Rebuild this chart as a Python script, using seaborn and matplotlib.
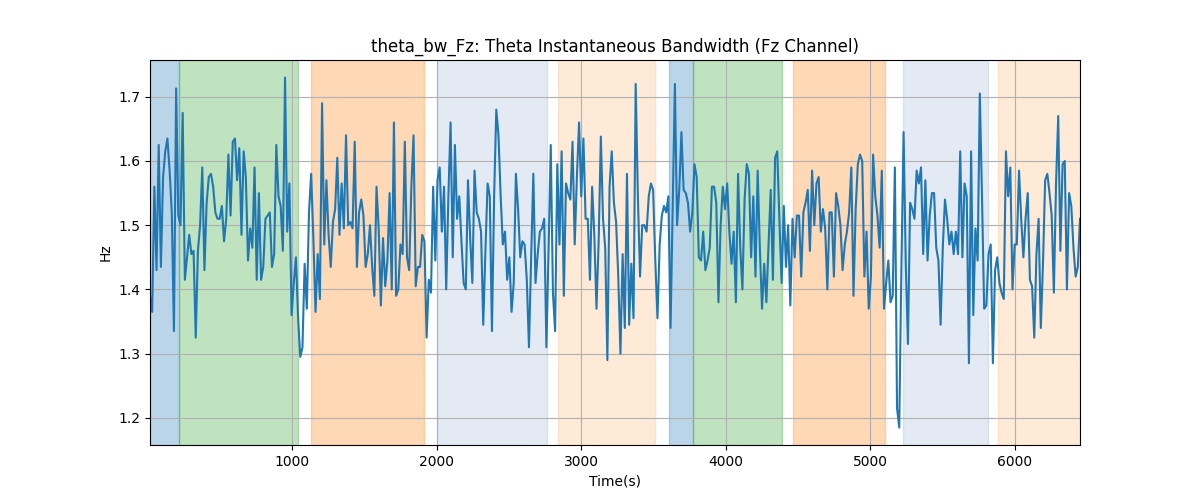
import numpy as np
import matplotlib
matplotlib.use("Agg")
import matplotlib.pyplot as plt
import seaborn as sns

t_start = 18
t_end = 6450

values = [
    # segment 1
    1.39, 1.365, 1.56, 1.43, 1.625, 1.435, 1.575, 1.615, 1.635, 1.585, 1.52, 1.335, 1.713, 1.515,
    1.50, 1.675, 1.415, 1.45, 1.485, 1.455, 1.46, 1.325, 1.46, 1.50, 1.59, 1.43, 1.535, 1.575,
    1.58, 1.56, 1.52, 1.51, 1.51, 1.53, 1.475, 1.51, 1.61, 1.515, 1.63, 1.635, 1.57, 1.62, 1.485,
    1.615, 1.575, 1.445, 1.495, 1.465, 1.59, 1.415, 1.55, 1.415, 1.435, 1.51,
    # segment 2
    1.515, 1.52, 1.435, 1.455, 1.625, 1.545, 1.53, 1.46, 1.73, 1.49, 1.565, 1.36, 1.41, 1.45,
    1.355, 1.295, 1.31, 1.44, 1.37, 1.52, 1.58, 1.48, 1.365, 1.455, 1.385, 1.69, 1.47, 1.57,
    1.485, 1.435, 1.505, 1.525, 1.605, 1.485, 1.565, 1.495, 1.64, 1.50, 1.505, 1.495, 1.63,
    1.435, 1.52, 1.54, 1.515, 1.435, 1.455, 1.50, 1.435, 1.39, 1.56, 1.495, 1.375,
    # segment 3
    1.48, 1.405, 1.445, 1.55, 1.40, 1.66, 1.39, 1.40, 1.47, 1.455, 1.63, 1.45, 1.43, 1.56, 1.64,
    1.405, 1.435, 1.435, 1.485, 1.475, 1.325, 1.415, 1.395, 1.56, 1.445, 1.57, 1.59, 1.49, 1.56,
    1.40, 1.545, 1.66, 1.45, 1.625, 1.51, 1.545, 1.475, 1.41, 1.40, 1.57, 1.48, 1.41, 1.585,
    1.52, 1.51, 1.49, 1.345, 1.46, 1.565, 1.545, 1.335, 1.545, 1.68, 1.64,
    # segment 4
    1.545, 1.47, 1.49, 1.415, 1.45, 1.365, 1.41, 1.58, 1.525, 1.45, 1.475, 1.47, 1.415, 1.31,
    1.45, 1.58, 1.41, 1.455, 1.49, 1.495, 1.51, 1.31, 1.46, 1.625, 1.395, 1.335, 1.595, 1.47,
    1.615, 1.39, 1.565, 1.55, 1.54, 1.63, 1.47, 1.575, 1.66, 1.545, 1.635, 1.51, 1.51, 1.415,
    1.56, 1.485, 1.37, 1.475, 1.638, 1.51, 1.465, 1.29, 1.56, 1.615, 1.535, 1.505,
    # segment 5
    1.42, 1.30, 1.455, 1.34, 1.58, 1.345, 1.44, 1.355, 1.72, 1.545, 1.42, 1.50, 1.50, 1.49,
    1.545, 1.565, 1.555, 1.445, 1.355, 1.47, 1.515, 1.53, 1.52, 1.545, 1.34, 1.53, 1.72, 1.50,
    1.555, 1.645, 1.555, 1.55, 1.535, 1.49, 1.52, 1.595, 1.575, 1.45, 1.445, 1.49, 1.43, 1.445,
    1.465, 1.56, 1.56, 1.535, 1.38, 1.50, 1.56, 1.525, 1.565, 1.49, 1.44, 1.49,
    # segment 6
    1.38, 1.58, 1.465, 1.40, 1.54, 1.595, 1.58, 1.45, 1.545, 1.42, 1.585, 1.465, 1.37, 1.44,
    1.38, 1.47, 1.555, 1.415, 1.605, 1.615, 1.505, 1.41, 1.53, 1.435, 1.50, 1.375, 1.51, 1.45,
    1.515, 1.515, 1.42, 1.52, 1.535, 1.555, 1.46, 1.585, 1.50, 1.565, 1.575, 1.49, 1.525, 1.495,
    1.40, 1.52, 1.52, 1.42, 1.55, 1.53, 1.50, 1.43, 1.47, 1.49, 1.52, 1.59,
    # segment 7
    1.39, 1.525, 1.595, 1.61, 1.60, 1.42, 1.49, 1.37, 1.42, 1.61, 1.545, 1.515, 1.465, 1.585,
    1.37, 1.41, 1.445, 1.38, 1.39, 1.59, 1.215, 1.185, 1.435, 1.645, 1.44, 1.315, 1.535, 1.525,
    1.51, 1.585, 1.565, 1.59, 1.455, 1.57, 1.445, 1.515, 1.55, 1.55, 1.465, 1.445, 1.345, 1.465,
    1.54, 1.51, 1.47, 1.49, 1.455, 1.49, 1.455, 1.615, 1.45, 1.565, 1.545, 1.285,
    # segment 8
    1.615, 1.36, 1.495, 1.445, 1.705, 1.545, 1.37, 1.375, 1.455, 1.47, 1.285, 1.43, 1.45, 1.41,
    1.395, 1.385, 1.615, 1.545, 1.59, 1.40, 1.47, 1.47, 1.585, 1.51, 1.45, 1.51, 1.55, 1.415,
    1.405, 1.325, 1.455, 1.51, 1.34, 1.44, 1.57, 1.58, 1.55, 1.515, 1.395, 1.565, 1.67, 1.46,
    1.595, 1.60, 1.40, 1.55, 1.53, 1.465, 1.42, 1.435, 1.51,
]

span_starts = [18, 216, 1131, 2003, 2840, 3607, 3775, 4465, 5223, 5883]
span_ends = [216, 1039, 1911, 2763, 3510, 3775, 4389, 5101, 5811, 6450]
span_colors = ["tab:blue", "tab:green", "tab:orange", "#4c72b0", "tab:orange",
               "tab:blue", "tab:green", "tab:orange", "#4c72b0", "tab:orange"]
span_alphas = [0.3, 0.3, 0.3, 0.15, 0.16, 0.3, 0.3, 0.3, 0.15, 0.16]

time = np.linspace(t_start, t_end, len(values))

fig, ax = plt.subplots(figsize=(12, 5), dpi=100)
for s, e, c, a in zip(span_starts, span_ends, span_colors, span_alphas):
    ax.axvspan(s, e, color=c, alpha=a)

sns.lineplot(x=time, y=values, ax=ax, color="tab:blue", linewidth=1.5)

ax.set_xlim(t_start, t_end)
ax.grid(True)
ax.set_title("theta_bw_Fz: Theta Instantaneous Bandwidth (Fz Channel)")
ax.set_xlabel("Time(s)")
ax.set_ylabel("Hz")

fig.savefig("out.png", dpi=100)
